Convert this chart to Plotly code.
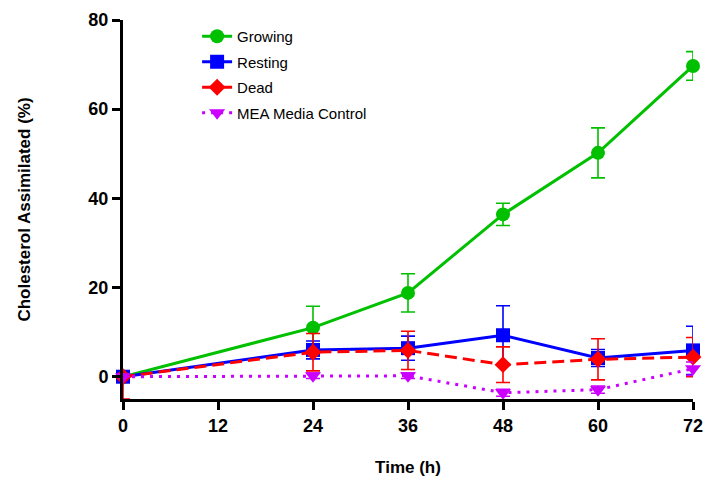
import plotly.graph_objects as go

time_h = [0, 24, 36, 48, 60, 72]
growing = [0, 11.0, 18.8, 36.4, 50.2, 69.7]
growing_err = [0, 4.8, 4.3, 2.5, 5.6, 3.2]
resting = [0, 6.0, 6.4, 9.3, 4.2, 5.9]
resting_err = [0, 2.0, 2.7, 6.6, 1.9, 5.4]
dead = [0, 5.5, 5.9, 2.7, 3.9, 4.4]
dead_err_plus = [0, 4.2, 4.3, 4.0, 4.6, 4.4]
dead_err_minus = [5.0, 4.2, 4.3, 4.0, 4.6, 4.4]
mea = [0, 0.2, 0.2, -3.6, -2.9, 1.8]
mea_err = [0, 0.6, 0.6, 0.8, 0.8, 1.5]

x_ticks = [0, 12, 24, 36, 48, 60, 72]
y_ticks = [0, 20, 40, 60, 80]

FONT = "Liberation Sans, Arial, sans-serif"

fig = go.Figure()

def add(name, y, color, dash, symbol, err_plus, err_minus=None, size=14):
    ey = dict(type="data", array=err_plus, visible=True, color=color,
              thickness=1.6, width=7)
    if err_minus is not None:
        ey["symmetric"] = False
        ey["arrayminus"] = err_minus
    fig.add_trace(go.Scatter(
        x=time_h, y=y, name=name, mode="lines+markers",
        line=dict(color=color, width=3, dash=dash),
        marker=dict(color=color, symbol=symbol, size=size),
        error_y=ey, cliponaxis=False, legendgroup=name,
    ))

add("Growing", growing, "#00C000", "solid", "circle", growing_err)
add("Resting", resting, "#0000FF", "solid", "square", resting_err)
add("Dead", dead, "#FF0000", "12px,6px", "diamond", dead_err_plus, dead_err_minus, size=13)
add("MEA Media Control", mea, "#CC00FF", "3px,6px", "triangle-down", mea_err)

axis_common = dict(
    showline=True, linecolor="black", linewidth=3,
    ticks="outside", ticklen=8, tickwidth=3, tickcolor="black",
    showgrid=False, zeroline=False, automargin=False,
    tickfont=dict(family=FONT, size=18, color="black", weight="bold"),
)

fig.update_xaxes(range=[0, 72], tickvals=x_ticks,
                 title=dict(text="<b>Time (h)</b>", font=dict(family=FONT, size=17, color="black"), standoff=27),
                 **axis_common)
fig.update_yaxes(range=[-5, 80], tickvals=y_ticks,
                 title=dict(text="<b>Cholesterol Assimilated (%)</b>", font=dict(family=FONT, size=17, color="black"), standoff=54),
                 **axis_common)

fig.update_layout(
    width=704, height=484,
    margin=dict(l=123, r=11, t=20, b=85),
    plot_bgcolor="white", paper_bgcolor="white",
    font=dict(family=FONT, color="black"),
    legend=dict(x=0.13, y=1.0, xanchor="left", yanchor="top",
                font=dict(family=FONT, size=15, color="black"),
                tracegroupgap=3, bgcolor="rgba(0,0,0,0)"),
)

fig.write_html("out.html", config={"displayModeBar": False},
               post_script="document.body.style.margin='0';document.body.style.overflow='hidden';")
